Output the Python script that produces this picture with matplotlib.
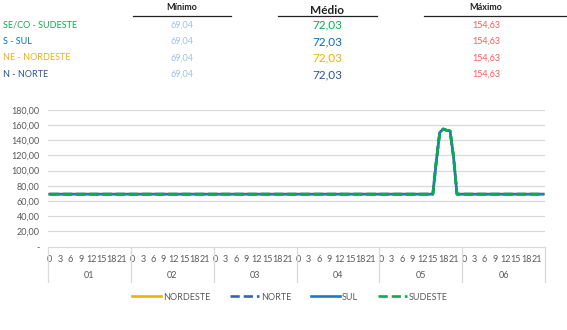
import matplotlib
matplotlib.use("Agg")
import matplotlib.pyplot as plt
from matplotlib.lines import Line2D

plt.rcParams["font.family"] = ["Lato", "DejaVu Sans"]

# data
days = ["01", "02", "03", "04", "05", "06"]
hours = list(range(24))
flat_day = [69.04] * 24
peak_day = [69.04, 69.04, 69.04, 69.04, 69.04, 69.04, 69.04, 69.04,
            69.04, 69.04, 69.04, 69.04, 69.04, 69.04, 69.04, 69.04,
            112.0, 150.0, 154.63, 153.0, 152.0, 118.0, 69.04, 69.04]
profile = flat_day * 4 + peak_day + flat_day
series = {
    "NORDESTE": profile,
    "NORTE": profile,
    "SUL": profile,
    "SUDESTE": profile,
}
regions = ["SE/CO - SUDESTE", "S - SUL", "NE - NORDESTE", "N - NORTE"]
minimo = ["69,04"] * 4
medio = ["72,03"] * 4
maximo = ["154,63"] * 4
yticks = [0, 20, 40, 60, 80, 100, 120, 140, 160, 180]

region_colors = ["#00B050", "#0070C0", "#F2B100", "#2F5597"]
styles = {
    "NORDESTE": dict(color="#F2B100", ls="-"),
    "NORTE": dict(color="#3A62A8", ls=(0, (3.5, 1.5))),
    "SUL": dict(color="#1F78C8", ls="-"),
    "SUDESTE": dict(color="#00B050", ls=(0, (3.5, 1.5))),
}
gray = "#595959"

W, H = 567, 330
fig = plt.figure(figsize=(W / 100, H / 100), dpi=100)

def fx(px):
    return px / W

def fy(py):
    return 1 - py / H

# top table
fig.text(fx(182), fy(7), "Mínimo", ha="center", va="center", fontsize=6.5, fontweight="bold", color="#222222")
fig.text(fx(327), fy(10), "Médio", ha="center", va="center", fontsize=8.5, fontweight="bold", color="#222222")
fig.text(fx(486), fy(7), "Máximo", ha="center", va="center", fontsize=6.5, fontweight="bold", color="#222222")
for x0, x1 in [(133, 231), (278, 377), (424, 567)]:
    fig.add_artist(Line2D([fx(x0), fx(x1)], [fy(16), fy(16)], color="#222222", lw=0.9))
for i, name in enumerate(regions):
    y = fy(25 + i * 16.5)
    fig.text(fx(3), y, name, ha="left", va="center", fontsize=6.5, color=region_colors[i])
    fig.text(fx(182), y, minimo[i], ha="center", va="center", fontsize=6.5, color="#9DC3E6")
    fig.text(fx(327), y, medio[i], ha="center", va="center", fontsize=8.5, color=region_colors[i])
    fig.text(fx(486), y, maximo[i], ha="center", va="center", fontsize=6.5, color="#FF5B5B")

# chart
left, right, top, bottom = 48, 545, 109.7, 246.7
ax = fig.add_axes([fx(left), fy(bottom), fx(right - left), (bottom - top) / H])
x = list(range(len(profile)))
for name, vals in series.items():
    st = styles[name]
    ax.plot(x, vals, color=st["color"], linestyle=st["ls"], lw=1.9, label=name)

ax.set_xlim(-0.5, len(profile) - 0.5)
ax.set_ylim(0, 180)
ax.set_yticks(yticks)
ax.set_yticklabels(["-"] + [f"{v:.2f}".replace(".", ",") for v in yticks[1:]])
ax.grid(axis="y", color="#D9D9D9", lw=0.9)
ax.set_axisbelow(True)
for s in ["top", "right", "left"]:
    ax.spines[s].set_visible(False)
ax.spines["bottom"].set_color("#D9D9D9")
ax.tick_params(axis="y", length=0, labelsize=6.5, labelcolor=gray, pad=6)

hour_pos = [d * 24 + h for d in range(len(days)) for h in hours[::3]]
ax.set_xticks(hour_pos)
ax.set_xticklabels([str(h) for d in days for h in hours[::3]])
ax.tick_params(axis="x", length=0, labelsize=6.5, labelcolor=gray, pad=6)

# day labels and separators
for d, lab in enumerate(days):
    ax.text(d * 24 + 11.5, -38, lab, ha="center", va="center", fontsize=6.5, color=gray, clip_on=False)
for d in range(len(days) + 1):
    ax.plot([d * 24 - 0.5] * 2, [0, -46], color="#D9D9D9", lw=0.9, clip_on=False)

handles, labels = ax.get_legend_handles_labels()
fig.legend(handles, labels, loc="center", bbox_to_anchor=(fx(290), fy(297)), ncol=4,
           frameon=False, fontsize=6.5, labelcolor=gray, handlelength=3.2,
           handletextpad=0.2, columnspacing=2.2)

plt.savefig("out.png", dpi=100)
